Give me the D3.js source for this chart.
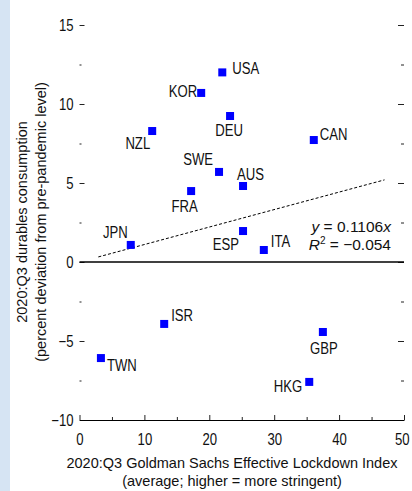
<!DOCTYPE html>
<html>
<head>
<meta charset="utf-8">
<script src="https://cdn.jsdelivr.net/npm/d3@7"></script>
<style>
  html, body { margin: 0; padding: 0; background: #ffffff; }
  svg { display: block; }
</style>
</head>
<body>
<svg id="chart" width="412" height="491"></svg>
<script>
// ---- Data ----
const countries = ["USA","KOR","DEU","NZL","CAN","SWE","AUS","FRA","ESP","ITA","JPN","ISR","TWN","GBP","HKG"];
const lockdownIndex = [22.0, 18.75, 23.2, 11.2, 36.1, 21.5, 25.2, 17.2, 25.2, 28.4, 7.9, 13.05, 3.3, 37.5, 35.4];
const durablesDeviation = [12.0, 10.7, 9.24, 8.29, 7.72, 5.7, 4.81, 4.49, 1.96, 0.76, 1.08, -3.92, -6.08, -4.43, -7.59];
const xTicks = [0, 10, 20, 30, 40, 50];
const xMinorTicks = [5, 15, 25, 35, 45];
const yTicks = [-10, -5, 0, 5, 10, 15];
const yMinorTicks = [-7.5, -2.5, 2.5, 7.5, 12.5];
const trendSlope = 0.1106;
const trendRange = [2.9, 47];
const equationText = ["y = 0.1106x", "R² = −0.054"];
const xTitle = ["2020:Q3 Goldman Sachs Effective Lockdown Index", "(average; higher = more stringent)"];
const yTitle = ["2020:Q3 durables consumption", "(percent deviation from pre-pandemic level)"];

// ---- Layout (label placement relative to each point) ----
const labelLayout = {
  USA: {dx: 10, dy: 2, anchor: "start"},
  KOR: {dx: -4, dy: 4, anchor: "end"},
  DEU: {dx: -1, dy: 20, anchor: "middle"},
  NZL: {dx: -2, dy: 18, anchor: "end"},
  CAN: {dx: 6, dy: 0, anchor: "start"},
  SWE: {dx: -6, dy: -7, anchor: "end"},
  AUS: {dx: -6, dy: -6, anchor: "start"},
  FRA: {dx: -6.5, dy: 21, anchor: "middle"},
  ESP: {dx: -4, dy: 19, anchor: "end"},
  ITA: {dx: 7, dy: -3, anchor: "start"},
  JPN: {dx: -3, dy: -7, anchor: "end"},
  ISR: {dx: 7, dy: -3, anchor: "start"},
  TWN: {dx: 6, dy: 13, anchor: "start"},
  GBP: {dx: 1, dy: 22, anchor: "middle"},
  HKG: {dx: -7, dy: 10, anchor: "end"}
};

const NARROW = "'Liberation Sans Narrow', 'Arial Narrow', sans-serif";
const REG = "'Liberation Sans', Arial, sans-serif";

// detect narrow font availability
function narrowAvailable() {
  const c = document.createElement("canvas").getContext("2d");
  c.font = "16px monospace";
  const w1 = c.measureText("USA Lockdown 0123").width;
  c.font = "16px 'Liberation Sans Narrow', monospace";
  const w2 = c.measureText("USA Lockdown 0123").width;
  return Math.abs(w1 - w2) > 0.5;
}
const hasNarrow = narrowAvailable();

const svg = d3.select("#chart");

// left light-blue strip
svg.append("rect").attr("x", 0).attr("y", 0).attr("width", 10).attr("height", 491)
  .attr("fill", "#d6e4f3");

const x = d3.scaleLinear().domain([0, 50]).range([79.5, 404]);
const y = d3.scaleLinear().domain([-10, 15]).range([420, 25]);

// ---- Y axis (left, inward ticks) ----
const gyL = svg.append("g").attr("transform", `translate(${x(0)},0)`)
  .call(d3.axisLeft(y).tickValues(yTicks).tickSizeInner(-5).tickSizeOuter(0).tickPadding(6)
    .tickFormat(d3.format("d")));
gyL.select(".domain").remove();
const gyLm = svg.append("g").attr("transform", `translate(${x(0)},0)`)
  .call(d3.axisLeft(y).tickValues(yMinorTicks).tickSizeInner(-2).tickSizeOuter(0).tickFormat(""));
gyLm.select(".domain").remove();

// ---- Y axis (right, inward ticks, no labels) ----
const gyR = svg.append("g").attr("transform", `translate(${x(50)},0)`)
  .call(d3.axisRight(y).tickValues(yTicks).tickSizeInner(-6).tickSizeOuter(0).tickFormat(""));
gyR.select(".domain").remove();
const gyRm = svg.append("g").attr("transform", `translate(${x(50)},0)`)
  .call(d3.axisRight(y).tickValues(yMinorTicks).tickSizeInner(-3).tickSizeOuter(0).tickFormat(""));
gyRm.select(".domain").remove();

// ---- X axis (bottom, inward ticks) ----
const gx = svg.append("g").attr("transform", `translate(0,${y(-10)})`)
  .call(d3.axisBottom(x).tickValues(xTicks).tickSizeInner(-5).tickSizeOuter(0).tickPadding(13.5)
    .tickFormat(d3.format("d")));
const gxm = svg.append("g").attr("transform", `translate(0,${y(-10)})`)
  .call(d3.axisBottom(x).tickValues(xMinorTicks).tickSizeInner(-3).tickSizeOuter(0).tickFormat(""));
gxm.select(".domain").remove();

svg.selectAll(".tick line").attr("stroke", "#222").attr("stroke-width", 1);
svg.selectAll(".domain").attr("stroke", "#000").attr("stroke-width", 1.2);
svg.selectAll(".tick text").attr("font-family", NARROW).attr("font-size", 16).attr("fill", "#111").classed("narrow", true);
// keep the last x label inside the picture
gx.selectAll(".tick text").filter(d => d === 50).attr("text-anchor", "end").attr("x", 5);

// zero line
svg.append("line")
  .attr("x1", x(0)).attr("x2", x(50))
  .attr("y1", y(0)).attr("y2", y(0))
  .attr("stroke", "#000").attr("stroke-width", 1.4);

// trend line
svg.append("line")
  .attr("x1", x(trendRange[0])).attr("y1", y(trendSlope * trendRange[0]))
  .attr("x2", x(trendRange[1])).attr("y2", y(trendSlope * trendRange[1]))
  .attr("stroke", "#000").attr("stroke-width", 1).attr("stroke-dasharray", "3,2");

// points
const pts = countries.map((c, i) => ({c, xv: lockdownIndex[i], yv: durablesDeviation[i]}));
const sq = 8;
svg.append("g").selectAll("rect").data(pts).join("rect")
  .attr("x", d => x(d.xv) - sq / 2)
  .attr("y", d => y(d.yv) - sq / 2)
  .attr("width", sq).attr("height", sq)
  .attr("fill", "#0000ff");

// labels
svg.append("g").selectAll("text").data(pts).join("text")
  .attr("class", "narrow")
  .attr("x", d => x(d.xv) + labelLayout[d.c].dx)
  .attr("y", d => y(d.yv) + labelLayout[d.c].dy)
  .attr("text-anchor", d => labelLayout[d.c].anchor)
  .attr("font-family", NARROW).attr("font-size", 16).attr("fill", "#111")
  .text(d => d.c);

// equation
const eq = svg.append("g").attr("font-family", REG).attr("font-size", 15.5).attr("fill", "#111");
const t1 = eq.append("text").attr("x", 391).attr("y", 232).attr("text-anchor", "end");
t1.append("tspan").attr("font-style", "italic").text("y");
t1.append("tspan").text(" = 0.1106");
t1.append("tspan").attr("font-style", "italic").text("x");
const t2 = eq.append("text").attr("x", 391).attr("y", 250).attr("text-anchor", "end");
t2.append("tspan").attr("font-style", "italic").text("R");
t2.append("tspan").attr("font-size", 10).attr("dy", -6).text("2");
t2.append("tspan").attr("dy", 6).text(" = −0.054");

// x title
svg.append("text").attr("x", 232).attr("y", 468).attr("text-anchor", "middle")
  .attr("font-family", REG).attr("font-size", 14.5).attr("fill", "#111").text(xTitle[0]);
svg.append("text").attr("x", 232).attr("y", 486).attr("text-anchor", "middle")
  .attr("font-family", REG).attr("font-size", 14.5).attr("fill", "#111").text(xTitle[1]);

// y title
const yt = svg.append("g").attr("transform", "translate(27,222) rotate(-90)")
  .attr("font-family", REG).attr("font-size", 14.5).attr("fill", "#111").attr("text-anchor", "middle");
yt.append("text").attr("x", 0).attr("y", 0).text(yTitle[0]);
yt.append("text").attr("x", 0).attr("y", 19).text(yTitle[1]);

// fallback: condense if narrow font not installed
if (!hasNarrow) {
  svg.selectAll(".narrow").each(function() {
    const len = this.getComputedTextLength();
    if (len > 0) {
      d3.select(this).attr("textLength", len * 0.82).attr("lengthAdjust", "spacingAndGlyphs");
    }
  });
}
</script>
</body>
</html>
